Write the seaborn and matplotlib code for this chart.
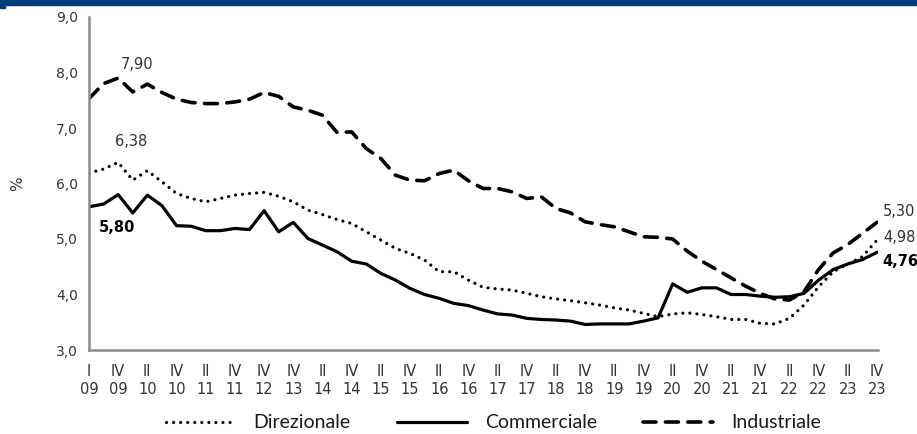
import pandas as pd
import matplotlib
matplotlib.use('Agg')
import matplotlib.pyplot as plt
import seaborn as sns
from matplotlib.patches import Rectangle

# quarterly yields (%), I-2009 .. IV-2023
direzionale = [6.19, 6.26, 6.38, 6.06, 6.23, 6.03, 5.82, 5.73, 5.67, 5.73,
               5.79, 5.82, 5.84, 5.77, 5.67, 5.52, 5.44, 5.35, 5.28, 5.13,
               4.98, 4.83, 4.74, 4.62, 4.41, 4.41, 4.26, 4.13, 4.10, 4.08,
               4.02, 3.96, 3.92, 3.89, 3.85, 3.81, 3.76, 3.72, 3.66, 3.60,
               3.65, 3.67, 3.64, 3.60, 3.55, 3.55, 3.48, 3.47, 3.57, 3.81,
               4.14, 4.41, 4.55, 4.68, 4.98]
commerciale = [5.58, 5.63, 5.80, 5.47, 5.79, 5.60, 5.24, 5.23, 5.15, 5.15,
               5.19, 5.17, 5.51, 5.13, 5.30, 5.01, 4.89, 4.77, 4.60, 4.55,
               4.38, 4.26, 4.11, 4.00, 3.93, 3.84, 3.80, 3.72, 3.65, 3.63,
               3.57, 3.55, 3.54, 3.52, 3.46, 3.47, 3.47, 3.47, 3.52, 3.58,
               4.19, 4.04, 4.12, 4.12, 4.00, 4.00, 3.97, 3.95, 3.96, 4.02,
               4.26, 4.45, 4.55, 4.63, 4.76]
industriale = [7.53, 7.80, 7.90, 7.65, 7.79, 7.64, 7.52, 7.46, 7.44, 7.44,
               7.47, 7.52, 7.64, 7.57, 7.38, 7.32, 7.23, 6.92, 6.93, 6.63,
               6.45, 6.15, 6.06, 6.05, 6.18, 6.24, 6.05, 5.91, 5.91, 5.85,
               5.73, 5.76, 5.55, 5.47, 5.31, 5.26, 5.22, 5.13, 5.04, 5.03,
               5.00, 4.78, 4.60, 4.45, 4.30, 4.15, 4.02, 3.92, 3.90, 4.05,
               4.45, 4.75, 4.90, 5.10, 5.30]

tick_labels = ['I\n09', 'IV\n09', 'II\n10', 'IV\n10', 'II\n11', 'IV\n11', 'IV\n12',
               'IV\n13', 'II\n14', 'IV\n14', 'II\n15', 'IV\n15', 'II\n16', 'IV\n16',
               'II\n17', 'IV\n17', 'II\n18', 'IV\n18', 'II\n19', 'IV\n19', 'II\n20',
               'IV\n20', 'II\n21', 'IV\n21', 'II\n22', 'IV\n22', 'II\n23', 'IV\n23']

df = pd.DataFrame({'q': range(len(commerciale)),
                   'Direzionale': direzionale,
                   'Commerciale': commerciale,
                   'Industriale': industriale})

sns.set_style('white')
plt.rcParams['font.family'] = ['DejaVu Sans']

fig = plt.figure(figsize=(9.17, 4.34), dpi=100)
ax = fig.add_axes([89/917, 84/434, (878-89)/917, (350-17)/434])

# top banner
fig.patches.append(Rectangle((0, 1 - 5/434), 1, 5/434, transform=fig.transFigure,
                             color='#003c78', zorder=0))
fig.patches.append(Rectangle((0, 1 - 8/434), 5/917, 3/434, transform=fig.transFigure,
                             color='#003c78', zorder=0))

sns.lineplot(data=df, x='q', y='Direzionale', ax=ax, color='black', lw=2.3,
             linestyle=(0, (0.01, 2.2)), dash_capstyle='round', label='Direzionale')
sns.lineplot(data=df, x='q', y='Commerciale', ax=ax, color='black', lw=2.3,
             label='Commerciale')
sns.lineplot(data=df, x='q', y='Industriale', ax=ax, color='black', lw=2.6,
             linestyle=(0, (3.6, 2.6)), dash_capstyle='round', label='Industriale')

handles, labels = ax.get_legend_handles_labels()
ax.get_legend().remove()

ax.set_xlim(0, 54.07)
ax.set_ylim(3, 9)
ax.set_yticks([3, 4, 5, 6, 7, 8, 9])
ax.set_yticklabels([f'{v},0' for v in range(3, 10)], fontsize=10, color='#333333')
ax.set_xticks(range(0, 55, 2))
ax.set_xticklabels(tick_labels, fontsize=10.5, color='#333333', linespacing=1.25)
ax.tick_params(axis='y', direction='out', length=5, width=1.5, color='#8c8c8c', pad=3)
ax.tick_params(axis='x', length=0, pad=10)
ax.set_xlabel('')
ax.set_ylabel('%', fontsize=11, color='#333333', labelpad=22)

for s in ['top', 'right']:
    ax.spines[s].set_visible(False)
for s in ['left', 'bottom']:
    ax.spines[s].set_color('#8c8c8c')
    ax.spines[s].set_linewidth(1.8)

# value labels
ax.text(3.27, 8.14, '7,90', ha='center', va='center', fontsize=10.5, color='#333333')
ax.text(2.88, 6.75, '6,38', ha='center', va='center', fontsize=10.5, color='#333333')
ax.text(1.9, 5.21, '5,80', ha='center', va='center', fontsize=10.5, color='black',
        fontweight='bold')
ax.text(54.4, 5.49, '5,30', ha='left', va='center', fontsize=10.5, color='#333333',
        clip_on=False)
ax.text(54.4, 5.03, '4,98', ha='left', va='center', fontsize=10.5, color='#333333',
        clip_on=False)
ax.text(54.4, 4.60, '4,76', ha='left', va='center', fontsize=10.5, color='black',
        fontweight='bold', clip_on=False)

fig.legend(handles, labels, loc='center', bbox_to_anchor=(0.538, 11/434), ncol=3,
           frameon=False, prop={'family': 'Lato', 'size': 14}, handlelength=3.6,
           handletextpad=0.9, columnspacing=2.4, labelcolor='#1a1a1a')

plt.savefig('out.png', dpi=100)
